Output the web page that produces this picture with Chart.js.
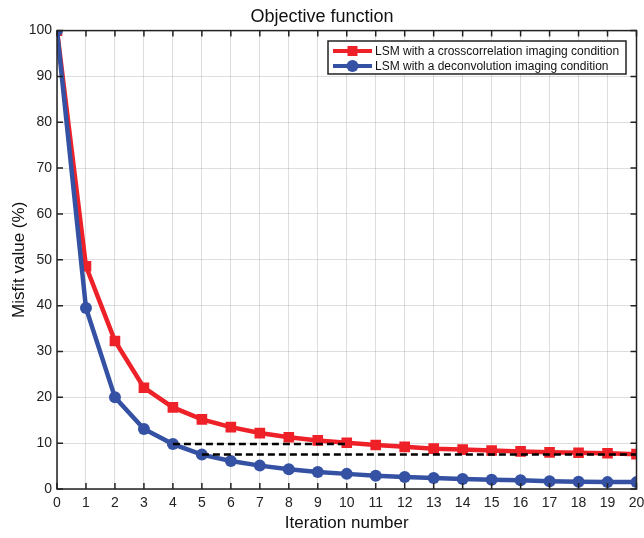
<!DOCTYPE html>
<html lang="en">
<head>
  <meta charset="UTF-8" />
  <title>Objective function</title>
  <script src="https://cdn.jsdelivr.net/npm/chart.js"></script>
  <style>
    html, body { margin: 0; padding: 0; background: #fff; }
    #wrap { width: 644px; height: 538px; }
  </style>
</head>
<body>
  <div id="wrap"><canvas id="misfitChart" width="644" height="538"></canvas></div>

  <script>
    // data
    const iterations = [0, 1, 2, 3, 4, 5, 6, 7, 8, 9, 10, 11, 12, 13, 14, 15, 16, 17, 18, 19, 20];
    const crossCorr = [100, 48.6, 32.3, 22.1, 17.8, 15.2, 13.5, 12.2, 11.3, 10.6, 10.1, 9.6, 9.2, 8.8, 8.6, 8.4, 8.2, 8.0, 7.9, 7.8, 7.6];
    const deconv = [100, 39.5, 20.0, 13.1, 9.8, 7.5, 6.1, 5.1, 4.3, 3.7, 3.3, 2.9, 2.6, 2.4, 2.2, 2.0, 1.9, 1.7, 1.6, 1.5, 1.5];
    const dashA = [{ x: 4, y: 9.8 }, { x: 10, y: 9.8 }];
    const dashB = [{ x: 5, y: 7.5 }, { x: 20, y: 7.5 }];
    const seriesLabels = ['LSM with a crosscorrelation imaging condition', 'LSM with a deconvolution imaging condition'];

    const RED = '#ee2028';
    const BLUE = '#3451a3';
    const FONT = "'Liberation Sans', Arial, sans-serif";

    const toXY = vals => vals.map((v, i) => ({ x: iterations[i], y: v }));

    // MATLAB-style box, inward ticks and the legend
    const boxPlugin = {
      id: 'matlabBox',
      afterDraw(chart) {
        const { ctx, chartArea: a, scales } = chart;
        const xs = scales.x, ys = scales.y;
        ctx.save();
        ctx.strokeStyle = '#222';
        ctx.lineWidth = 1.5;
        ctx.strokeRect(a.left, a.top, a.right - a.left, a.bottom - a.top);
        ctx.beginPath();
        xs.ticks.forEach(t => {
          const px = xs.getPixelForValue(t.value);
          ctx.moveTo(px, a.bottom); ctx.lineTo(px, a.bottom - 6);
          ctx.moveTo(px, a.top); ctx.lineTo(px, a.top + 6);
        });
        ys.ticks.forEach(t => {
          const py = ys.getPixelForValue(t.value);
          ctx.moveTo(a.left, py); ctx.lineTo(a.left + 6, py);
          ctx.moveTo(a.right, py); ctx.lineTo(a.right - 6, py);
        });
        ctx.stroke();

        // legend
        const lx = 328, ly = 41, lw = 298, lh = 33;
        ctx.fillStyle = '#fff';
        ctx.fillRect(lx, ly, lw, lh);
        ctx.lineWidth = 1.5;
        ctx.strokeStyle = '#222';
        ctx.strokeRect(lx, ly, lw, lh);
        const rows = [
          { color: RED, shape: 'square', y: ly + 10 },
          { color: BLUE, shape: 'circle', y: ly + 25 }
        ];
        ctx.font = '12px ' + FONT;
        ctx.textBaseline = 'middle';
        rows.forEach((r, i) => {
          ctx.strokeStyle = r.color;
          ctx.fillStyle = r.color;
          ctx.lineWidth = 4;
          ctx.beginPath();
          ctx.moveTo(lx + 5, r.y); ctx.lineTo(lx + 44, r.y);
          ctx.stroke();
          if (r.shape === 'square') {
            ctx.fillRect(lx + 24.5 - 5, r.y - 5, 10, 10);
          } else {
            ctx.beginPath();
            ctx.arc(lx + 24.5, r.y, 6, 0, Math.PI * 2);
            ctx.fill();
          }
          ctx.fillStyle = '#111';
          ctx.fillText(seriesLabels[i], lx + 47, r.y + 0.5);
        });
        ctx.restore();
      }
    };

    new Chart(document.getElementById('misfitChart'), {
      type: 'line',
      data: {
        datasets: [
          { data: dashA, borderColor: '#000', borderWidth: 2.5, borderDash: [7, 4], pointRadius: 0 },
          { data: dashB, borderColor: '#000', borderWidth: 2.5, borderDash: [7, 4], pointRadius: 0 },
          {
            label: seriesLabels[1], data: toXY(deconv),
            borderColor: BLUE, backgroundColor: BLUE, borderWidth: 4.5,
            pointStyle: 'circle', pointRadius: 6, pointBorderWidth: 0
          },
          {
            label: seriesLabels[0], data: toXY(crossCorr),
            borderColor: RED, backgroundColor: RED, borderWidth: 4.5,
            pointStyle: 'rect', pointRadius: 7.5, pointBorderWidth: 0
          }
        ]
      },
      options: {
        responsive: false,
        animation: false,
        layout: { padding: { left: 0, right: 0, top: 0, bottom: 0 } },
        plugins: {
          legend: { display: false },
          tooltip: { enabled: false },
          title: {
            display: true,
            text: 'Objective function',
            color: '#111',
            font: { family: FONT, size: 18, weight: 'normal' },
            padding: { top: 6, bottom: 3 }
          }
        },
        scales: {
          x: {
            type: 'linear', min: 0, max: 20,
            afterFit: s => { s.height = 49; s.paddingRight = 7; },
            ticks: { stepSize: 1, color: '#222', font: { family: FONT, size: 14 }, padding: 6, maxRotation: 0 },
            grid: { color: 'rgba(0,0,0,0.13)', drawTicks: false },
            border: { display: false },
            title: { display: true, text: 'Iteration number', color: '#111', font: { family: FONT, size: 17 }, padding: { top: 0 } }
          },
          y: {
            min: 0, max: 100,
            afterFit: s => { s.width = 57; },
            ticks: { stepSize: 10, color: '#222', font: { family: FONT, size: 14 }, padding: 5 },
            grid: { color: 'rgba(0,0,0,0.13)', drawTicks: false },
            border: { display: false },
            title: { display: true, text: 'Misfit value (%)', color: '#111', font: { family: FONT, size: 17 }, padding: { top: 9, bottom: 0 } }
          }
        }
      },
      plugins: [boxPlugin]
    });
  </script>
</body>
</html>
